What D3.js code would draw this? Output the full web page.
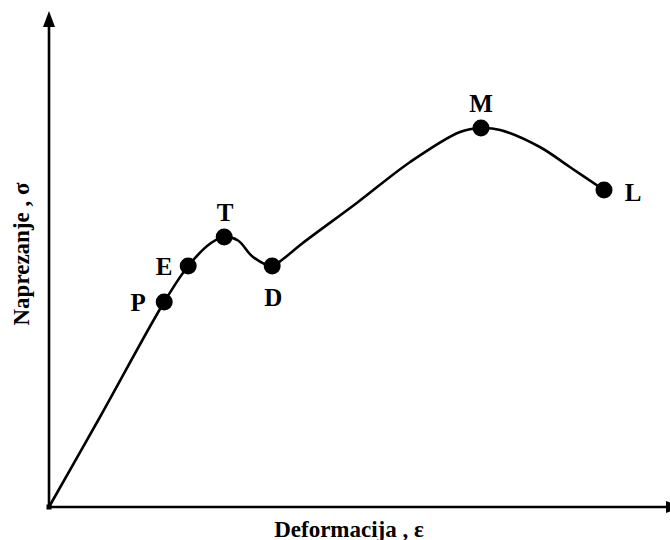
<!DOCTYPE html>
<html>
<head>
<meta charset="utf-8">
<script src="https://cdn.jsdelivr.net/npm/d3@7/dist/d3.min.js"></script>
<style>
  html, body { margin: 0; padding: 0; background: #fff; }
  svg { display: block; }
  text { font-family: "Liberation Serif", "Times New Roman", serif; font-weight: bold; fill: #000; }
</style>
</head>
<body>
<script>
// Stress–strain curve of a ductile material (arbitrary units, 0–100)
const strain = [0, 8.5, 19.2, 23.2, 27, 29.2, 31.5, 34, 37.2, 38.8, 42.3, 51.3, 60.2, 68.5, 72, 75.2, 81.8, 86.8, 92.5];
const stress = [0, 18, 41, 48.2, 52.8, 54, 53.3, 50, 48.2, 49.4, 52.8, 60.8, 69, 75, 75.8, 75.4, 72, 68, 63.4];

// Characteristic points on the curve
const pointNames  = ["P", "E", "T", "D", "M", "L"];
const pointStrain = [19.2, 23.2, 29.2, 37.2, 72, 92.5];
const pointStress = [41, 48.2, 54, 48.2, 75.8, 63.4];

const xTitle = "Deformacija , ε";
const yTitle = "Naprezanje , σ";

const W = 670, H = 540;
const svg = d3.select("body").append("svg").attr("width", W).attr("height", H);

const x = d3.scaleLinear().domain([0, 100]).range([49, 649]);
const y = d3.scaleLinear().domain([0, 100]).range([507, 7]);

// Axes with arrowheads
const axisG = svg.append("g");
const x0 = x(0), y0 = y(0);
axisG.append("line").attr("x1", x0).attr("y1", y0).attr("x2", x0).attr("y2", 24)
  .attr("stroke", "#000").attr("stroke-width", 2.6);
axisG.append("path").attr("d", `M${x0},11 L${x0 - 6},27 L${x0 + 6},27 Z`).attr("fill", "#000");
axisG.append("line").attr("x1", x0).attr("y1", y0).attr("x2", 668).attr("y2", y0)
  .attr("stroke", "#000").attr("stroke-width", 2.6);
axisG.append("path").attr("d", `M682,${y0} L666,${y0 - 6} L666,${y0 + 6} Z`).attr("fill", "#000");
axisG.append("rect").attr("x", x0 - 2.5).attr("y", y0 - 2.5).attr("width", 5).attr("height", 5).attr("fill", "#000");

// Curve
const line = d3.line()
  .x((d, i) => x(strain[i]))
  .y((d, i) => y(stress[i]))
  .curve(d3.curveCatmullRom.alpha(0.5));
svg.append("path")
  .attr("d", line(strain))
  .attr("fill", "none")
  .attr("stroke", "#000")
  .attr("stroke-width", 2.6)
  .attr("stroke-linejoin", "round");

// Markers and their labels
const labelOffset = {
  P: [-26, 0], E: [-24, 0], T: [1, -25], D: [1, 31], M: [0, -25], L: [29, 2]
};
pointNames.forEach((name, i) => {
  const cx = x(pointStrain[i]), cy = y(pointStress[i]);
  svg.append("circle").attr("cx", cx).attr("cy", cy).attr("r", 8.5).attr("fill", "#000");
  const [dx, dy] = labelOffset[name];
  svg.append("text")
    .attr("x", cx + dx).attr("y", cy + dy)
    .attr("text-anchor", "middle")
    .attr("dominant-baseline", "central")
    .style("font-size", "25px")
    .text(name);
});

// Axis titles
svg.append("text")
  .attr("x", 349).attr("y", 529)
  .attr("text-anchor", "middle")
  .attr("dominant-baseline", "central")
  .style("font-size", "23px")
  .text(xTitle);
svg.append("text")
  .attr("transform", "translate(21,254) rotate(-90)")
  .attr("text-anchor", "middle")
  .attr("dominant-baseline", "central")
  .style("font-size", "23px")
  .text(yTitle);
</script>
</body>
</html>
